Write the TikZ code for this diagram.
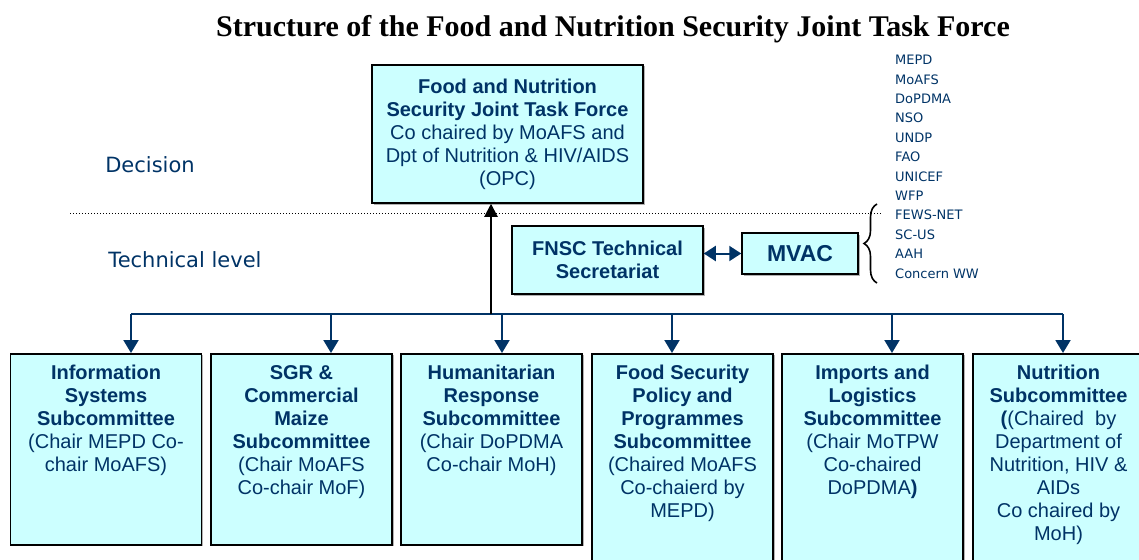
\documentclass[tikz,border=0pt]{standalone}
\usepackage{fontspec}
\setmainfont{Liberation Sans}
\newfontfamily\titlefont{Liberation Serif}
\newfontfamily\notefont{DejaVu Sans}
\usetikzlibrary{positioning,arrows.meta,shadows,decorations.pathreplacing}
\definecolor{boxfill}{HTML}{CCFFFF}
\definecolor{navy}{HTML}{003366}

\begin{document}
\begin{tikzpicture}[x=1pt,y=-1pt,
	box/.style={draw=black, line width=1.5pt, fill=boxfill, text=navy, align=center,
		font=\fontsize{20}{23}\selectfont, inner sep=0pt,
		drop shadow={shadow xshift=1.5pt, shadow yshift=-1.5pt, fill=black!30, opacity=1}},
	subbox/.style={box, anchor=north},
	subtext/.style={text=navy, align=center, font=\fontsize{20}{23}\selectfont, inner sep=0pt, anchor=north},
	level/.style={text=navy, font=\notefont\fontsize{21}{24}\selectfont},
	drop/.style={draw=navy, line width=2pt, -{Triangle[width=15pt,length=13pt]}},
	bus/.style={draw=navy, line width=2pt},
	uparrow/.style={draw=black, line width=2pt, -{Triangle[width=13pt,length=13pt]}},
	duo/.style={draw=navy, line width=2pt, {Triangle[width=15pt,length=12pt]}-{Triangle[width=15pt,length=12pt]}}]
\useasboundingbox (0,0) rectangle (1139,559);

\node[font=\titlefont\bfseries\fontsize{30}{34}\selectfont] (title) at (613,29) {Structure of the Food and Nutrition Security Joint Task Force};

% decision level
\node[box, minimum width=271pt, minimum height=138pt] (jtf) at (507.5,134)
	{\textbf{Food and Nutrition}\\\textbf{Security Joint Task Force}\\Co chaired by MoAFS and\\Dpt of Nutrition \& HIV/AIDS\\(OPC)};
\node[level] (decision) at (150,165) {Decision};
\draw[dotted, line width=1pt] (70,213) -- (881,213);
\node[level] (technical) at (185,260) {Technical level};

% technical level
\node[box, minimum width=191pt, minimum height=68pt] (fnsc) at (607.5,260) {\textbf{FNSC Technical}\\\textbf{Secretariat}};
\node[box, minimum width=116pt, minimum height=41pt, font=\bfseries\fontsize{23}{26}\selectfont] (mvac) at (800,253.5) {MVAC};
\draw[duo] (fnsc.east |- mvac) -- (mvac.west);

\draw[decorate, decoration={brace, amplitude=13pt}, line width=1.6pt] (877,283) -- (877,204);
\node[anchor=north west, text=navy, align=left, inner sep=0pt, font=\notefont\fontsize{13}{19.4}\selectfont] (members) at (895,55)
	{MEPD\\MoAFS\\DoPDMA\\NSO\\UNDP\\FAO\\UNICEF\\WFP\\FEWS-NET\\SC-US\\AAH\\Concern WW};

% subcommittees
\foreach \n/\x/\w/\h in {info/106/191/191, sgr/301.5/181/191, hum/491.5/181/191, fsp/682.5/181/230, imp/872.5/181/230, nut/1063.5/181/230} {
	\node[subbox, minimum width=\w pt, minimum height=\h pt] (\n) at (\x,353) {};
}

\node[subtext, below=12pt of info.north] (infotext) {\textbf{Information}\\\textbf{Systems}\\\textbf{Subcommittee}\\(Chair MEPD Co-\\chair MoAFS)};
\node[subtext, below=12pt of sgr.north] (sgrtext) {\textbf{SGR \&}\\\textbf{Commercial}\\\textbf{Maize}\\\textbf{Subcommittee}\\(Chair MoAFS\\Co-chair MoF)};
\node[subtext, below=12pt of hum.north] (humtext) {\textbf{Humanitarian}\\\textbf{Response}\\\textbf{Subcommittee}\\(Chair DoPDMA\\Co-chair MoH)};
\node[subtext, below=12pt of fsp.north] (fsptext) {\textbf{Food Security}\\\textbf{Policy and}\\\textbf{Programmes}\\\textbf{Subcommittee}\\(Chaired MoAFS\\Co-chaierd by\\MEPD)};
\node[subtext, below=12pt of imp.north] (imptext) {\textbf{Imports and}\\\textbf{Logistics}\\\textbf{Subcommittee}\\(Chair MoTPW\\Co-chaired\\DoPDMA\textbf{)}};
\node[subtext, below=12pt of nut.north, xshift=-5pt] (nuttext) {\textbf{Nutrition}\\\textbf{Subcommittee}\\\textbf{(}(Chaired\ \ by\\Department of\\Nutrition, HIV \&\\AIDs\\Co chaired by\\MoH)};

% connectors
\foreach \n/\x in {info/131, sgr/331, hum/502, fsp/672, imp/892, nut/1063} {
	\coordinate (d\n) at (\x,314);
	\draw[drop] (d\n) -- (d\n |- \n.north);
}
\draw[bus] (dinfo) -- (dnut);

\coordinate (up) at (491,314);
\draw[uparrow] (up) -- (up |- jtf.south);
\end{tikzpicture}
\end{document}
